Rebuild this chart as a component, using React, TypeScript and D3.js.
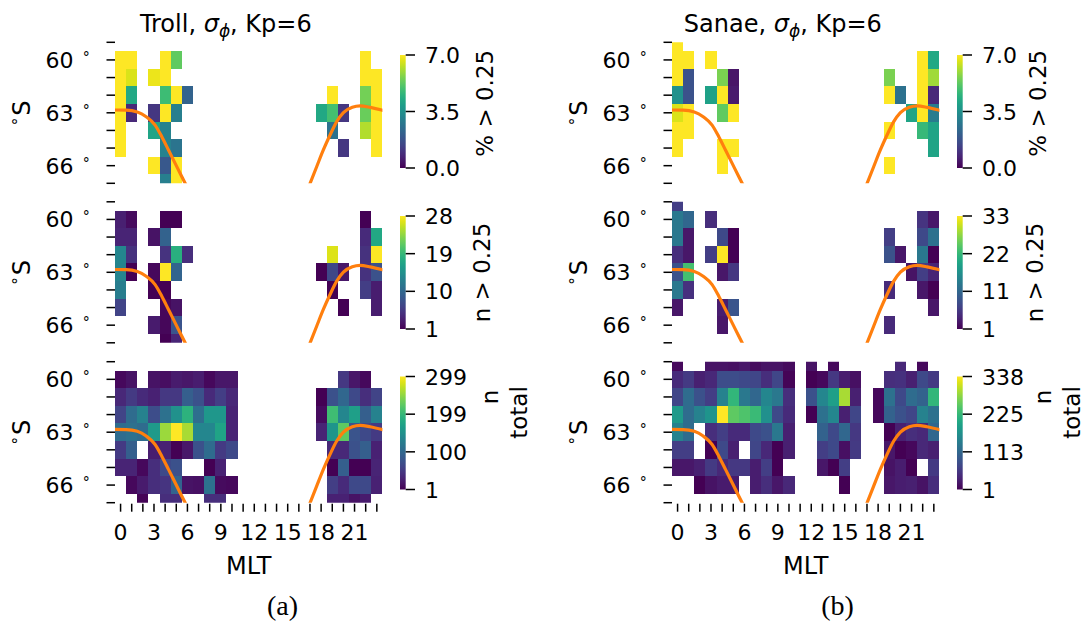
import React from 'react';
import * as d3 from 'd3';

const _ = null;

// MLT hour bins (columns) and geomagnetic latitude bins (rows, degrees south)
const MLT = [0, 1, 2, 3, 4, 5, 6, 7, 8, 9, 10, 11, 12, 13, 14, 15, 16, 17, 18, 19, 20, 21, 22, 23];
const LAT = [59, 60, 61, 62, 63, 64, 65, 66, 67];
const MLT_TICKS = [0, 3, 6, 9, 12, 15, 18, 21];
const LAT_TICKS = [60, 63, 66];

// Troll, % of samples with sigma_phi > 0.25
const trollPct = [
  [_, _, _, _, _, _, _, _, _, _, _, _, _, _, _, _, _, _, _, _, _, _, _, _],
  [9, 9, _, _, 9, 5.3, _, _, _, _, _, _, _, _, _, _, _, _, _, _, _, _, 9, _],
  [9, 6.6, _, 6.8, 9, _, _, _, _, _, _, _, _, _, _, _, _, _, _, _, _, _, 9, 9],
  [9, 4.2, _, _, 4.8, 9, 2.2, _, _, _, _, _, _, _, _, _, _, _, _, 9, _, _, 5.5, 9],
  [9, 0.8, _, 1.1, 9, 3.0, _, _, _, _, _, _, _, _, _, _, _, _, 4.2, 4.9, 1.1, _, 5.4, 9],
  [9, _, _, 4.1, 3.1, _, _, _, _, _, _, _, _, _, _, _, _, _, _, 2.6, _, _, 6.2, 9],
  [9, _, _, _, 3.1, 2.7, _, _, _, _, _, _, _, _, _, _, _, _, _, _, 1.1, _, _, 9],
  [_, _, _, 9, 1.9, 9, _, _, _, _, _, _, _, _, _, _, _, _, _, _, _, _, _, _],
  [_, _, _, _, 3.0, 9, _, _, _, _, _, _, _, _, _, _, _, _, _, _, _, _, _, _],
];

// Troll, number of samples > 0.25
const trollCount = [
  [_, _, _, _, _, _, _, _, _, _, _, _, _, _, _, _, _, _, _, _, _, _, _, _],
  [3.4, 1.8, _, _, 1, 1, _, _, _, _, _, _, _, _, _, _, _, _, _, _, _, _, 1, _],
  [3.7, 3.7, _, 2.3, 9.4, _, _, _, _, _, _, _, _, _, _, _, _, _, _, _, _, _, 4.2, 17.2],
  [13.4, 4.8, _, _, 5, 18, 4.5, _, _, _, _, _, _, _, _, _, _, _, _, 26.6, _, _, 4.8, 28],
  [13.2, 1, _, 1.6, 28, 9.6, _, _, _, _, _, _, _, _, _, _, _, _, 1, 6.7, 2.6, _, 4.8, 7.8],
  [12.3, _, _, 1, 1.1, _, _, _, _, _, _, _, _, _, _, _, _, _, _, 1, _, _, 5.9, 3.2],
  [6.4, _, _, _, 1.5, 2.3, _, _, _, _, _, _, _, _, _, _, _, _, _, _, 1, _, _, 3.2],
  [_, _, _, 3, 1.5, 8, _, _, _, _, _, _, _, _, _, _, _, _, _, _, _, _, _, _],
  [_, _, _, _, 1, 3.8, _, _, _, _, _, _, _, _, _, _, _, _, _, _, _, _, _, _],
];

// Troll, total number of samples
const trollTotal = [
  [_, _, _, _, _, _, _, _, _, _, _, _, _, _, _, _, _, _, _, _, _, _, _, _],
  [7, 16, _, 16, 12, 22, 19, 25, 7, 19, 19, _, _, _, _, _, _, _, _, _, 49, 19, 7, _],
  [34, 52, 37, 28, 49, 49, 90, 75, 37, 55, 34, _, _, _, _, _, _, _, 2, 75, 99, 67, 40, 61],
  [61, 105, 132, 70, 111, 150, 192, 108, 159, 159, 31, _, _, _, _, _, _, _, 10, 207, 138, 168, 90, 132],
  [105, 111, 105, 162, 254, 299, 260, 138, 138, 174, 31, _, _, _, _, _, _, _, 31, 156, 225, 78, 67, 52],
  [52, 90, _, 25, 28, 2, 19, 75, 105, 52, 67, _, _, _, _, _, _, _, _, 34, 34, 75, 90, 28],
  [31, 31, 7, 40, 67, 75, _, _, 2, 28, _, _, _, _, _, _, _, _, _, 2, 90, 2, 2, 31],
  [_, 7, 22, 40, 46, 96, 16, 13, 111, 10, 7, _, _, _, _, _, _, _, _, 55, 37, 67, 67, 28],
  [_, _, 4, _, 40, 40, _, _, 40, 40, _, _, _, _, _, _, _, _, _, 28, 28, 16, 22, _],
];

// Sanae, % of samples with sigma_phi > 0.25
const sanaePct = [
  [9, _, _, _, _, _, _, _, _, _, _, _, _, _, _, _, _, _, _, _, _, _, _, _],
  [9, 9, _, 9, _, _, _, _, _, _, _, _, _, _, _, _, _, _, _, _, _, _, 9, 4.2],
  [9, 1.75, _, _, 5.6, 0.4, _, _, _, _, _, _, _, _, _, _, _, _, _, 5.6, _, _, 9, 6.0],
  [3.5, 1.75, _, 4.0, 9, 0.5, _, _, _, _, _, _, _, _, _, _, _, _, _, 9, 2.6, _, 9, 0.8],
  [6.6, 9, _, _, 5.3, 9, _, _, _, _, _, _, _, _, _, _, _, _, _, _, _, 4.1, 9, 2.9],
  [9, 9, _, _, _, _, _, _, _, _, _, _, _, _, _, _, _, _, _, 9, _, _, 4.7, 4.1],
  [9, _, _, _, 9, 9, _, _, _, _, _, _, _, _, _, _, _, _, _, _, _, _, _, 4.1],
  [_, _, _, _, 9, _, _, _, _, _, _, _, _, _, _, _, _, _, _, 9, _, _, _, _],
  [_, _, _, _, _, _, _, _, _, _, _, _, _, _, _, _, _, _, _, _, _, _, _, _],
];

// Sanae, number of samples > 0.25
const sanaeCount = [
  [6.8, _, _, _, _, _, _, _, _, _, _, _, _, _, _, _, _, _, _, _, _, _, _, _],
  [13.8, 11.6, _, 5.2, _, _, _, _, _, _, _, _, _, _, _, _, _, _, _, _, _, _, 5.8, 2.9],
  [13.8, 2.9, _, _, 8, 1, _, _, _, _, _, _, _, _, _, _, _, _, _, 6.8, _, _, 8, 12.8],
  [5.2, 2.9, _, 6.8, 33, 1, _, _, _, _, _, _, _, _, _, _, _, _, _, 9, 2.9, _, 13.8, 1],
  [9, 23.4, _, _, 2.9, 6, _, _, _, _, _, _, _, _, _, _, _, _, _, _, _, 2.6, 6.8, 4.2],
  [13.8, 5.4, _, _, _, _, _, _, _, _, _, _, _, _, _, _, _, _, _, 4.8, _, _, 2.9, 1],
  [2.9, _, _, _, 3.5, 9.3, _, _, _, _, _, _, _, _, _, _, _, _, _, _, _, _, _, 2.9],
  [_, _, _, _, 2.9, _, _, _, _, _, _, _, _, _, _, _, _, _, _, 4.8, _, _, _, _],
  [_, _, _, _, _, _, _, _, _, _, _, _, _, _, _, _, _, _, _, _, _, _, _, _],
];

// Sanae, total number of samples
const sanaeTotal = [
  [8, _, _, 18, 18, 15, 21, 11, 18, 18, 11, _, 18, _, 8, _, _, _, _, _, 38, _, 8, _],
  [41, 58, 31, 38, 79, 79, 75, 72, 45, 72, 4, _, 2, 8, 55, 28, 15, _, _, 45, 48, 31, 75, 58],
  [72, 119, 85, 62, 149, 223, 136, 112, 156, 136, 45, _, 85, 156, 190, 294, 31, _, 8, 126, 75, 119, 105, 223],
  [183, 119, 149, 176, 338, 254, 244, 230, 169, 75, 41, _, 2, 126, 156, 31, 72, _, 8, 105, 85, 72, 149, 126],
  [149, 119, _, 45, 62, 41, 41, 75, 85, 136, 31, _, _, 105, 75, 112, 55, _, _, 2, 31, 45, 38, 112],
  [62, 62, _, 2, 75, 31, _, 72, 38, 2, 31, _, _, 62, 75, 15, 58, _, _, 21, 2, 8, 38, 31],
  [21, 21, 31, 58, 38, 55, 55, 28, 62, 2, _, _, _, 21, 2, 62, _, _, _, 18, 28, 2, _, 58],
  [_, _, 2, 18, 25, 25, _, 28, 45, 21, 38, _, _, _, _, 2, _, _, _, 21, 28, 31, 18, 45],
  [_, _, _, _, _, _, _, _, _, _, _, _, _, _, _, _, _, _, _, _, _, _, _, _],
];

// Auroral boundary (orange curve): MLT vs latitude, dawn and dusk branches
const dawnMLT = [-0.6, 0.5, 1.5, 2.3, 3.1, 3.7, 4.3, 4.9, 5.5, 6.2];
const dawnLat = [62.84, 62.85, 62.95, 63.22, 63.7, 64.36, 65.11, 65.87, 66.63, 67.5];
const duskMLT = [16.7, 17.6, 18.2, 18.8, 19.4, 20.0, 20.8, 21.5, 22.4, 23.6];
const duskLat = [67.5, 66.06, 65.11, 64.26, 63.5, 62.99, 62.69, 62.61, 62.69, 62.87];

// Colorbar ranges and ticks
const pctRange = [0, 7];
const pctTicks = [0, 3.5, 7];
const pctTickLabels = ['0.0', '3.5', '7.0'];
const trollCountRange = [1, 28];
const trollCountTicks = [1, 10, 19, 28];
const trollCountTickLabels = ['1', '10', '19', '28'];
const trollTotalRange = [1, 299];
const trollTotalTicks = [1, 100.33, 199.67, 299];
const trollTotalTickLabels = ['1', '100', '199', '299'];
const sanaeCountRange = [1, 33];
const sanaeCountTicks = [1, 11.67, 22.33, 33];
const sanaeCountTickLabels = ['1', '11', '22', '33'];
const sanaeTotalRange = [1, 338];
const sanaeTotalTicks = [1, 113.33, 225.67, 338];
const sanaeTotalTickLabels = ['1', '113', '225', '338'];

// Layout
const FONT = 'DejaVu Sans, Verdana, sans-serif';
const AX_W = 267.4;
const AX_H = 141;
const ROW_TOPS = [42.3, 201.8, 361.7];
const CB_TOPS = [55, 216, 376.5];
const CB_H = 113;
const ORANGE = '#ff7f0e';
const TICK_FS = 22;

const viridisStops = d3.range(0, 1.0001, 0.05);

type LabelLine = { text: string; bx: number; cy: number };

function Heat({
  id, left, top, cbTop, data, range, ticks, tickLabels, labelLines, showX,
}: {
  id: string; left: number; top: number; cbTop: number; data: (number | null)[][];
  range: number[]; ticks: number[]; tickLabels: string[]; labelLines: LabelLine[]; showX: boolean;
}) {
  const x = d3.scaleLinear().domain([-0.5, 23.5]).range([left, left + AX_W]);
  const y = d3.scaleLinear().domain([59, 67]).range([top, top + AX_H]);
  const color = d3.scaleSequential(d3.interpolateViridis).domain(range as [number, number]).clamp(true);
  const cbX = left + 285;
  const cb = d3.scaleLinear().domain(range).range([cbTop + CB_H, cbTop]);
  const line = d3
    .line<[number, number]>()
    .x((d) => x(d[0]))
    .y((d) => y(d[1]))
    .curve(d3.curveMonotoneX);
  const dawn = dawnMLT.map((m, i) => [m, dawnLat[i]] as [number, number]);
  const dusk = duskMLT.map((m, i) => [m, duskLat[i]] as [number, number]);
  const bottom = top + AX_H;
  return (
    <g>
      <defs>
        <clipPath id={`clip-${id}`}>
          <rect x={left} y={top} width={AX_W} height={AX_H} />
        </clipPath>
      </defs>
      <g clipPath={`url(#clip-${id})`}>
        {data.map((row, r) =>
          row.map((v, c) =>
            v == null ? null : (
              <rect
                key={`${r}-${c}`}
                x={x(MLT[c] - 0.5)}
                y={y(LAT[r] - 0.5)}
                width={x(MLT[c] + 0.5) - x(MLT[c] - 0.5)}
                height={y(LAT[r] + 0.5) - y(LAT[r] - 0.5)}
                fill={color(v)}
                shapeRendering="crispEdges"
              />
            )
          )
        )}
        <path d={line(dawn) || ''} fill="none" stroke={ORANGE} strokeWidth={3.2} />
        <path d={line(dusk) || ''} fill="none" stroke={ORANGE} strokeWidth={3.2} />
      </g>
      {/* y ticks */}
      {LAT.map((l) => (
        <line key={l} x1={left - 8.5} x2={left} y1={y(l)} y2={y(l)} stroke="#000" strokeWidth={1.5} />
      ))}
      {LAT_TICKS.map((l) => (
        <g key={`yl${l}`}>
          <text x={left - 41.5} y={y(l) + 7.9} textAnchor="end" fontSize={TICK_FS} fontFamily={FONT}>
            {l}
          </text>
          <text x={left - 28.8} y={y(l) + 2} textAnchor="middle" fontSize={14} fontFamily={FONT}>
            {'°'}
          </text>
        </g>
      ))}
      {/* y label */}
      <text
        transform={`translate(${left - 85},${top + AX_H / 2}) rotate(-90)`}
        textAnchor="middle"
        fontSize={24}
        fontFamily={FONT}
      >
        <tspan fontSize={15} dy={-6}>{'°'}</tspan>
        <tspan dy={6} dx={2}>S</tspan>
      </text>
      {showX && (
        <g>
          {MLT.map((m) => (
            <line key={m} x1={x(m)} x2={x(m)} y1={bottom + 1} y2={bottom + 9} stroke="#000" strokeWidth={1.5} />
          ))}
          {MLT_TICKS.map((m) => (
            <text key={`xl${m}`} x={x(m)} y={bottom + 37.5} textAnchor="middle" fontSize={TICK_FS} fontFamily={FONT}>
              {m}
            </text>
          ))}
          <text x={left + AX_W / 2} y={bottom + 71.5} textAnchor="middle" fontSize={24} fontFamily={FONT}>
            MLT
          </text>
        </g>
      )}
      {/* colorbar */}
      <rect x={cbX} y={cbTop} width={5.7} height={CB_H} fill="url(#viridisGrad)" />
      {ticks.map((t, i) => (
        <g key={`cb${i}`}>
          <line x1={cbX + 5.7} x2={cbX + 15} y1={cb(t)} y2={cb(t)} stroke="#000" strokeWidth={1.5} />
          <text x={left + 310} y={cb(t) + 8} fontSize={TICK_FS} fontFamily={FONT}>
            {tickLabels[i]}
          </text>
        </g>
      ))}
      {labelLines.map((ln, i) => (
        <text
          key={`lab${i}`}
          transform={`translate(${left + ln.bx},${ln.cy}) rotate(-90)`}
          textAnchor="middle"
          fontSize={23}
          fontFamily={FONT}
        >
          {ln.text}
        </text>
      ))}
    </g>
  );
}

function Station({
  id, name, left, pct, count, total, countRange, countTicks, countTickLabels, totalRange, totalTicks, totalTickLabels, tag, tagX, labShift,
}: any) {
  return (
    <g>
      <text x={left + 110.8} y={32.3} textAnchor="middle" fontSize={24} fontFamily={FONT}>
        {name}, <tspan fontStyle="italic">σ</tspan>
        <tspan fontStyle="italic" fontSize={17} dy={5}>ϕ</tspan>
        <tspan dy={-5}>, Kp=6</tspan>
      </text>
      <Heat
        id={`${id}0`}
        left={left}
        top={ROW_TOPS[0]}
        cbTop={CB_TOPS[0]}
        data={pct}
        range={pctRange}
        ticks={pctTicks}
        tickLabels={pctTickLabels}
        labelLines={[{ text: '% > 0.25', bx: 378.3 - labShift, cy: 103.3 }]}
        showX={false}
      />
      <Heat
        id={`${id}1`}
        left={left}
        top={ROW_TOPS[1]}
        cbTop={CB_TOPS[1]}
        data={count}
        range={countRange}
        ticks={countTicks}
        tickLabels={countTickLabels}
        labelLines={[{ text: 'n > 0.25', bx: 375 - labShift, cy: 272.5 }]}
        showX={false}
      />
      <Heat
        id={`${id}2`}
        left={left}
        top={ROW_TOPS[2]}
        cbTop={CB_TOPS[2]}
        data={total}
        range={totalRange}
        ticks={totalTicks}
        tickLabels={totalTickLabels}
        labelLines={[
          { text: 'n', bx: 383.3 - labShift, cy: 397 },
          { text: 'total', bx: 411.7 - labShift, cy: 412.5 },
        ]}
        showX={true}
      />
      <text x={tagX} y={615} textAnchor="middle" fontSize={28} fontFamily="'Liberation Serif', 'DejaVu Serif', serif">
        {tag}
      </text>
    </g>
  );
}

export default function App() {
  return (
    <svg width={1087} height={623} style={{ display: 'block', position: 'absolute', left: 0, top: 0, background: '#fff' }}>
      <defs>
        <linearGradient id="viridisGrad" x1="0" y1="1" x2="0" y2="0">
          {viridisStops.map((t) => (
            <stop key={t} offset={t} stopColor={d3.interpolateViridis(Math.min(t, 1))} />
          ))}
        </linearGradient>
      </defs>
      <rect width={1087} height={623} fill="#fff" />
      <Station
        id="troll"
        name="Troll"
        left={115}
        pct={trollPct}
        count={trollCount}
        total={trollTotal}
        countRange={trollCountRange}
        countTicks={trollCountTicks}
        countTickLabels={trollCountTickLabels}
        totalRange={trollTotalRange}
        totalTicks={trollTotalTicks}
        totalTickLabels={trollTotalTickLabels}
        tag="(a)"
        tagX={282.5}
        labShift={0}
      />
      <Station
        id="sanae"
        name="Sanae"
        left={672}
        pct={sanaePct}
        count={sanaeCount}
        total={sanaeTotal}
        countRange={sanaeCountRange}
        countTicks={sanaeCountTicks}
        countTickLabels={sanaeCountTickLabels}
        totalRange={sanaeTotalRange}
        totalTicks={sanaeTotalTicks}
        totalTickLabels={sanaeTotalTickLabels}
        tag="(b)"
        tagX={837.5}
        labShift={4}
      />
    </svg>
  );
}
